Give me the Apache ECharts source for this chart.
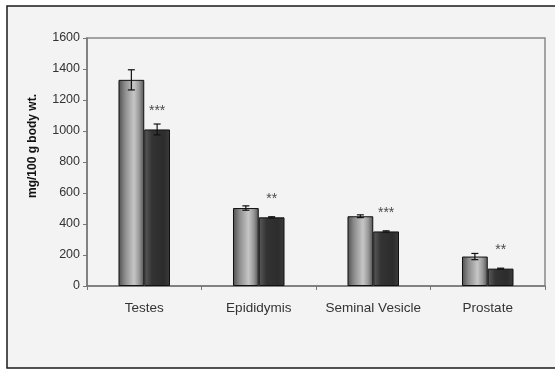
<!DOCTYPE html>
<html>
<head>
<meta charset="utf-8">
<script src="https://cdn.jsdelivr.net/npm/echarts@6/dist/echarts.min.js"></script>
<style>
  html, body { margin: 0; padding: 0; background: #ffffff; }
  #chart { width: 555px; height: 369px; }
</style>
</head>
<body>
<div id="chart"></div>
<script>
// Organ weights (mg/100 g body wt.), control vs treated, mean ± SE
const categories = ['Testes', 'Epididymis', 'Seminal Vesicle', 'Prostate'];
const controlMean = [1330, 503, 450, 190];
const controlErr  = [65, 14, 9, 20];
const treatedMean = [1010, 443, 352, 112];
const treatedErr  = [35, 4, 4, 3];
const significance = ['***', '**', '***', '**'];
const yTicks = { min: 0, max: 1600, interval: 200 };
const yTitle = 'mg/100 g body wt.';

const CAT_GAP = 0.55; // fraction of each category band left empty
const FONT = 'Arial, "Liberation Sans", sans-serif';

const chart = echarts.init(document.getElementById('chart'), null, { renderer: 'canvas' });

const lightFill = new echarts.graphic.LinearGradient(0, 0, 1, 0, [
  { offset: 0, color: '#4f4f4f' },
  { offset: 0.25, color: '#8c8c8c' },
  { offset: 0.6, color: '#c6c6c6' },
  { offset: 0.8, color: '#9a9a9a' },
  { offset: 1, color: '#505050' }
]);
const darkFill = new echarts.graphic.LinearGradient(0, 0, 1, 0, [
  { offset: 0, color: '#5c5c5c' },
  { offset: 0.3, color: '#333333' },
  { offset: 0.75, color: '#2c2c2c' },
  { offset: 1, color: '#3c3c3c' }
]);

// Whisker renderer; side = -1 for the left bar of a pair, +1 for the right one
function errorBars(side) {
  return function (params, api) {
    const idx = api.value(0);
    const mean = api.value(1);
    const err = api.value(2);
    const band = api.size([1, 0])[0];
    const barW = band * (1 - CAT_GAP) / 2;
    const cx = api.coord([idx, mean])[0] + side * barW / 2;
    const top = api.coord([idx, mean + err])[1];
    const bot = api.coord([idx, mean - err])[1];
    const cap = 3.5;
    const style = { stroke: '#111111', lineWidth: 1.2 };
    return {
      type: 'group',
      children: [
        { type: 'line', shape: { x1: cx, y1: top, x2: cx, y2: bot }, style },
        { type: 'line', shape: { x1: cx - cap, y1: top, x2: cx + cap, y2: top }, style },
        { type: 'line', shape: { x1: cx - cap, y1: bot, x2: cx + cap, y2: bot }, style }
      ]
    };
  };
}

chart.setOption({
  backgroundColor: '#ffffff',
  animation: false,
  graphic: [
    {
      type: 'rect',
      z: -10,
      shape: { x: 7, y: 6, width: 560, height: 362 },
      style: { fill: '#f3f3f3', stroke: '#1a1a1a', lineWidth: 1.5 }
    },
    {
      type: 'text',
      x: 33, y: 146,
      rotation: Math.PI / 2,
      style: {
        text: yTitle,
        fill: '#111111',
        font: 'bold 12px ' + FONT,
        align: 'center',
        verticalAlign: 'middle'
      }
    }
  ],
  grid: {
    left: 87, top: 38, right: 10, bottom: 83,
    show: true, borderColor: '#888888', borderWidth: 1.5,
    backgroundColor: 'transparent'
  },
  xAxis: {
    type: 'category',
    data: categories,
    axisLine: { lineStyle: { color: '#777777', width: 1.5 } },
    axisTick: { show: true, inside: false, length: 4, lineStyle: { color: '#777777' } },
    axisLabel: { interval: 0, color: '#333333', fontFamily: FONT, fontSize: 13.5, margin: 15 },
    splitLine: { show: false }
  },
  yAxis: {
    type: 'value',
    min: yTicks.min, max: yTicks.max, interval: yTicks.interval,
    axisLine: { show: true, lineStyle: { color: '#777777', width: 1.5 } },
    axisTick: { show: true, length: 4, lineStyle: { color: '#777777' } },
    axisLabel: { color: '#333333', fontFamily: FONT, fontSize: 12.5, margin: 7, formatter: v => String(v) },
    splitLine: { show: false }
  },
  series: [
    {
      name: 'Control',
      type: 'bar',
      data: controlMean,
      barGap: '0%',
      barCategoryGap: (CAT_GAP * 100) + '%',
      itemStyle: { color: lightFill, borderColor: '#111111', borderWidth: 1 }
    },
    {
      name: 'Treated',
      type: 'bar',
      data: treatedMean,
      barGap: '0%',
      barCategoryGap: (CAT_GAP * 100) + '%',
      itemStyle: { color: darkFill, borderColor: '#111111', borderWidth: 1 },
      label: {
        show: true,
        position: 'top',
        distance: 11,
        color: '#4a4a4a',
        fontFamily: FONT,
        fontSize: 14,
        formatter: p => significance[p.dataIndex]
      }
    },
    {
      type: 'custom',
      renderItem: errorBars(-1),
      data: controlMean.map((m, i) => [i, m, controlErr[i]]),
      z: 5
    },
    {
      type: 'custom',
      renderItem: errorBars(1),
      data: treatedMean.map((m, i) => [i, m, treatedErr[i]]),
      z: 5
    }
  ]
});
</script>
</body>
</html>
